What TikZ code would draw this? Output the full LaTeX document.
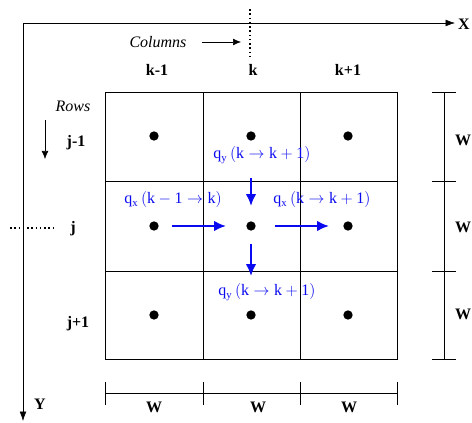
\documentclass[tikz,border=0pt]{standalone}
\usepackage{fontspec}
\setmainfont{Liberation Serif}
\usetikzlibrary{arrows.meta}
\definecolor{fluxblue}{RGB}{10,10,240}

\begin{document}
\begin{tikzpicture}[x=0.75pt,y=-0.75pt,font=\fontsize{12}{14}\selectfont,
    dot/.style={circle,fill=black,inner sep=0pt,minimum size=7pt},
    lab/.style={font=\fontsize{12}{14}\selectfont\bfseries},
    flux/.style={fluxblue,line width=2pt,-{Latex[length=9pt,width=8pt]}},
    fluxlab/.style={fluxblue,inner sep=1pt},
    tick/.style={line width=0.6pt}]
    \useasboundingbox (0,0) rectangle (472,423);
    % axes
    \coordinate (O) at (23,23);
    \coordinate (Xend) at (455,23);
    \coordinate (Yend) at (23,421);
    \draw[-{Latex[length=7pt,width=5pt]}] (O) -- (Xend);
    \draw[-{Latex[length=7pt,width=5pt]}] (O) -- (Yend);
    \node[lab] (xlab) at (464,24) {X};
    \node[lab] (ylab) at (40,404) {Y};
    % grid of cells
    \draw[line width=0.6pt] (105,92) rectangle (397,359);
    \foreach \x in {203,300} \draw[line width=0.6pt] (\x,92) -- (\x,359);
    \foreach \y in {181,271} \draw[line width=0.6pt] (105,\y) -- (397,\y);
    % cell centres
    \foreach \r/\y in {1/136,2/226,3/315}
      \foreach \c/\x in {1/154,2/251,3/348}
        \node[dot] (d\r\c) at (\x,\y) {};
    % column and row labels
    \node[lab] (k0) at (157,70) {k-1};
    \node[lab] (k1) at (253,70) {k};
    \node[lab] (k2) at (348,70) {k+1};
    \node[lab] (j0) at (76,143) {j-1};
    \node[lab] (j1) at (73,229) {j};
    \node[lab] (j2) at (78,324) {j+1};
    \node[font=\fontsize{12}{14}\selectfont\itshape] (cols) at (158,42) {Columns};
    \coordinate (colA) at (202,42);
    \coordinate (colB) at (241,42);
    \draw[-{Latex[length=6pt,width=5pt]}] (colA) -- (colB);
    \draw[dotted,line width=1.2pt] (250,9) -- (250,57);
    \node[font=\fontsize{12}{14}\selectfont\itshape] (rows) at (73,106) {Rows};
    \coordinate (rowA) at (45,120);
    \coordinate (rowB) at (45,159);
    \draw[-{Latex[length=6pt,width=5pt]}] (rowA) -- (rowB);
    \draw[dotted,line width=1.2pt] (10,228) -- (56,228);
    % fluxes
    \draw[flux,shorten <=13pt*0.75,shorten >=20pt*0.75] (d21) -- (d22);
    \draw[flux,shorten <=19pt*0.75,shorten >=14pt*0.75] (d22) -- (d23);
    \draw[flux,shorten <=37pt*0.75,shorten >=15pt*0.75] (d12) -- (d22);
    \draw[flux,shorten <=13pt*0.75,shorten >=34pt*0.75] (d22) -- (d32);
    \node[fluxlab] (qy0) at (262,155) {$\mathrm{q_y\,(k \rightarrow k+1)}$};
    \node[fluxlab] (qx0) at (173,200) {$\mathrm{q_x\,(k-1 \rightarrow k)}$};
    \node[fluxlab] (qx1) at (322,200) {$\mathrm{q_x\,(k \rightarrow k+1)}$};
    \node[fluxlab] (qy1) at (267,292) {$\mathrm{q_y\,(k \rightarrow k+1)}$};
    % width bar at the right
    \draw[tick] (444,92) -- (444,359);
    \foreach \y in {92,181,271,359} \draw[tick] (432,\y) -- (456,\y);
    \foreach \y/\n in {140/a,227/b,314/c} \node[lab] (wr\n) at (463,\y) {W};
    % width bar at the bottom
    \draw[tick] (105,393) -- (397,393);
    \foreach \x in {105,203,300,397} \draw[tick] (\x,382) -- (\x,405);
    \foreach \x/\n in {154/a,258/b,349/c} \node[lab] (wb\n) at (\x,407) {W};
\end{tikzpicture}
\end{document}
